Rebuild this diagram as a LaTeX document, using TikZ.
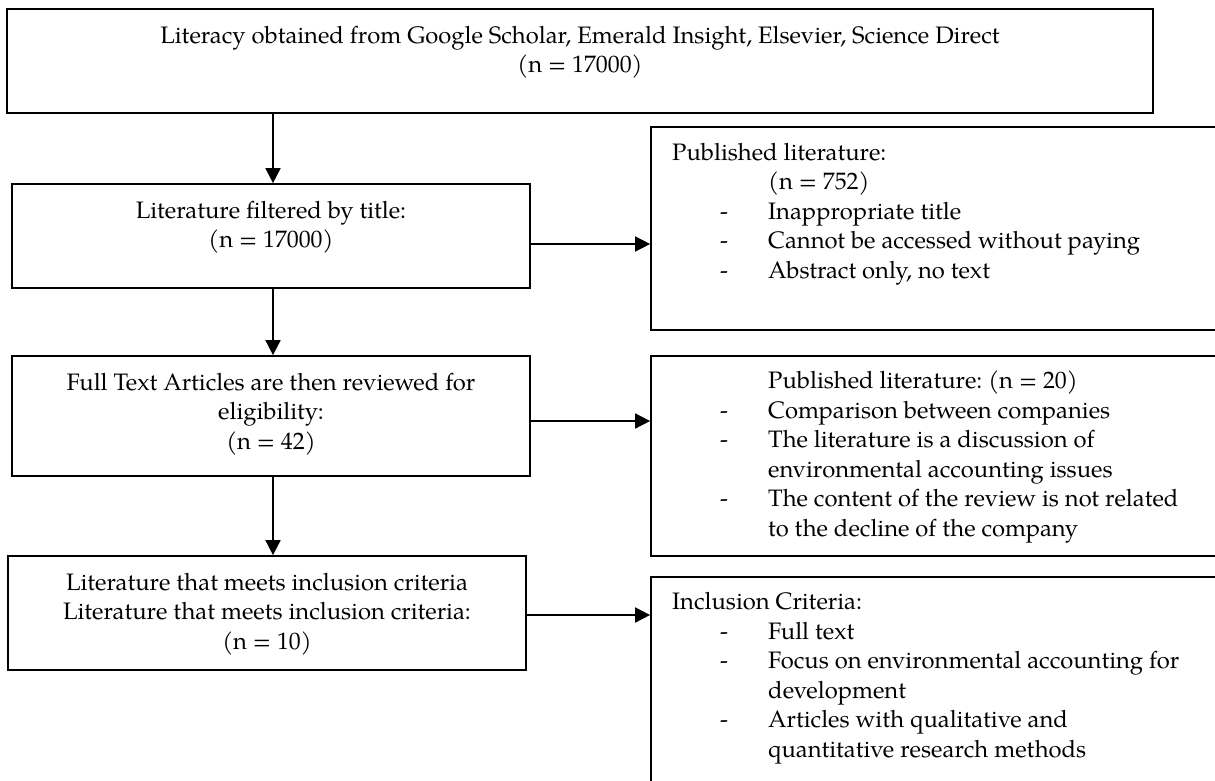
\documentclass[tikz,border=0pt]{standalone}
\usepackage{fontspec}
\setmainfont{TeX Gyre Pagella}
\usetikzlibrary{arrows.meta}
\newcommand{\dashitem}{\makebox[96pt][l]{\hspace*{48pt}-}}
\newcommand{\indentitem}{\hspace*{96pt}}
\frenchspacing
\begin{document}
\begin{tikzpicture}[x=1pt,y=-1pt,
  box/.style={draw, line width=1.7pt, rectangle, inner sep=0pt},
  txt/.style={font=\fontsize{23.8}{29.5}\selectfont, inner sep=0pt},
  arr/.style={line width=1.6pt, -{Triangle[length=15pt,width=15pt]}}]
\useasboundingbox (0,0) rectangle (1215,780);
\fill[white] (0,0) rectangle (1215,780);
\clip (0,0) rectangle (1215,780);

% left column boxes
\node[box, minimum width=1146pt, minimum height=104pt] (top) at (580,61) {};
\node[box, minimum width=518pt, minimum height=104pt] (b2) at (271,236) {};
\node[box, minimum width=518pt, minimum height=120pt] (b3) at (271,416) {};
\node[box, minimum width=518pt, minimum height=114pt] (b4) at (267,613) {};
% right column boxes (cut by the picture edge)
\node[box, minimum width=584pt, minimum height=203pt] (r1) at (943,228.5) {};
\node[box, minimum width=584pt, minimum height=200pt] (r2) at (943,456) {};
\node[box, minimum width=584pt, minimum height=223pt] (r3) at (943,688.5) {};

% texts (anchor base = baseline of the last line)
\node[txt, align=center, anchor=base] (ttop) at (580,72.5)
  {Literacy obtained from Google Scholar, Emerald Insight, Elsevier, Science Direct\\(n = 17000)};
\node[txt, align=center, anchor=base] (tb2) at (271,247.5)
  {Literature filtered by title:\\(n = 17000)};
\node[txt, align=center, anchor=base] (tb3) at (271,449)
  {Full Text Articles are then reviewed for\\eligibility:\\(n = 42)};
\node[txt, align=center, anchor=base] (tb4) at (267,649)
  {Literature that meets inclusion criteria\\Literature that meets inclusion criteria:\\(n = 10)};
\node[txt, align=left, anchor=base west] (tr1) at (672,278)
  {Published literature:\\
   \indentitem(n = 752)\\
   \dashitem Inappropriate title\\
   \dashitem Cannot be accessed without paying\\
   \dashitem Abstract only, no text};
\node[txt, align=left, anchor=base west] (tr2) at (672,536)
  {\indentitem Published literature: (n = 20)\\
   \dashitem Comparison between companies\\
   \dashitem The literature is a discussion of\\
   \indentitem environmental accounting issues\\
   \dashitem The content of the review is not related\\
   \indentitem to the decline of the company};
\node[txt, align=left, anchor=base west] (tr3) at (672,757)
  {Inclusion Criteria:\\
   \dashitem Full text\\
   \dashitem Focus on environmental accounting for\\
   \indentitem development\\
   \dashitem Articles with qualitative and\\
   \indentitem quantitative research methods};

% connectors
\coordinate (ax) at (273,0);
\coordinate (h1) at (0,244);
\coordinate (h2) at (0,421);
\coordinate (h3) at (0,615);
\draw[arr] (top.south -| ax) -- (b2.north -| ax);
\draw[arr] (b2.south -| ax) -- (b3.north -| ax);
\draw[arr] (b3.south -| ax) -- (b4.north -| ax);
\draw[arr] (b2.east |- h1) -- (r1.west |- h1);
\draw[arr] (b3.east |- h2) -- (r2.west |- h2);
\draw[arr] (b4.east |- h3) -- (r3.west |- h3);
\end{tikzpicture}
\end{document}
